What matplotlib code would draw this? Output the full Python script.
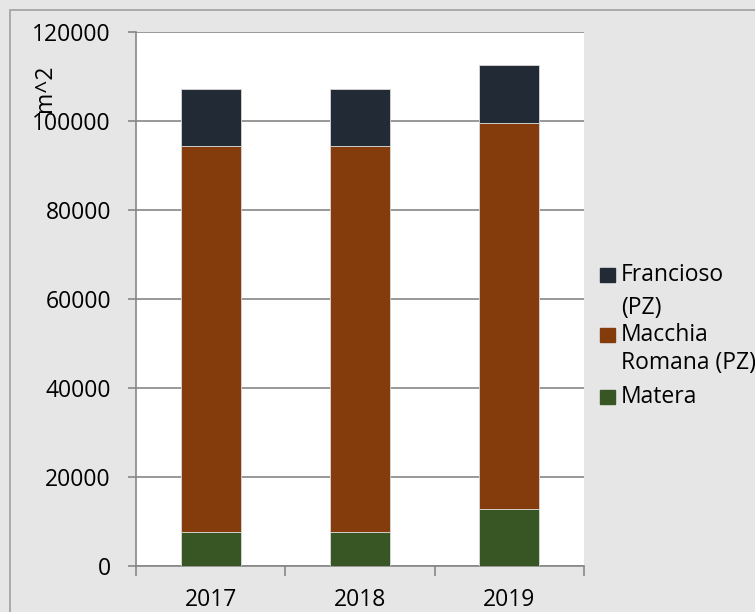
import matplotlib.pyplot as plt
from matplotlib.patches import Rectangle

# superfici per sede (m^2)
anni = ["2017", "2018", "2019"]
matera = [7570, 7570, 12740]
macchia_romana = [86900, 86900, 86900]
francioso = [12750, 12750, 12900]

serie = [
    ("Francioso\n(PZ)", francioso, "#222a35"),
    ("Macchia\nRomana (PZ)", macchia_romana, "#843c0c"),
    ("Matera", matera, "#375623"),
]

plt.rcParams["font.family"] = ["Open Sans", "DejaVu Sans"]
FS = 16.5

W, H = 755, 612
fig = plt.figure(figsize=(W / 100, H / 100), dpi=100)
fig.patch.set_facecolor("#e6e6e6")
# cornice esterna
fig.add_artist(Rectangle((10 / W, -0.1), 1.0, 1.1 - 10 / H, transform=fig.transFigure,
                         fill=False, edgecolor="#a0a0a0", lw=1.2))

ax = fig.add_axes([136 / W, 1 - 566 / H, (584 - 136) / W, (566 - 32) / H])
ax.set_facecolor("white")

x = list(range(len(anni)))
base = [0] * len(anni)
# impilati dal basso: Matera, Macchia Romana, Francioso
for nome, valori, colore in reversed(serie):
    ax.bar(x, valori, 0.4, bottom=base, color=colore, edgecolor="#d9d9d9", lw=0.6, zorder=3)
    base = [b + v for b, v in zip(base, valori)]

ax.set_ylim(0, 120000)
ax.set_xlim(-0.5, 2.5)
ax.set_yticks(range(0, 120001, 20000))
ax.yaxis.grid(True, color="#868686", lw=1.2, zorder=0)
ax.set_axisbelow(True)

ax.set_xticks(x)
ax.set_xticklabels(anni)
ax.set_xticks([-0.5, 0.5, 1.5, 2.5], minor=True)
ax.tick_params(axis="x", which="major", length=0, pad=16, labelsize=FS)
ax.tick_params(axis="x", which="minor", length=7, color="#868686", width=1.2)
ax.tick_params(axis="y", length=6, color="#868686", width=1.2, labelsize=FS, pad=12)

for s in ["top", "right"]:
    ax.spines[s].set_visible(False)
for s in ["left", "bottom"]:
    ax.spines[s].set_color("#868686")
    ax.spines[s].set_linewidth(1.2)

fig.text(45 / W, 1 - 88 / H, "m^2", rotation=90, ha="center", va="center", fontsize=FS)

# legenda: quadratino allineato alla prima riga di ogni voce
righe_y = [[275, 308], [335, 363], [397]]
for (nome, valori, colore), ys in zip(serie, righe_y):
    fig.add_artist(Rectangle((600 / W, 1 - (ys[0] + 7) / H), 15 / W, 14 / H,
                             transform=fig.transFigure, color=colore))
    for riga, yp in zip(nome.split("\n"), ys):
        fig.text(621 / W, 1 - yp / H, riga, ha="left", va="center", fontsize=FS)

fig.savefig("out.png", dpi=100, facecolor=fig.get_facecolor())
